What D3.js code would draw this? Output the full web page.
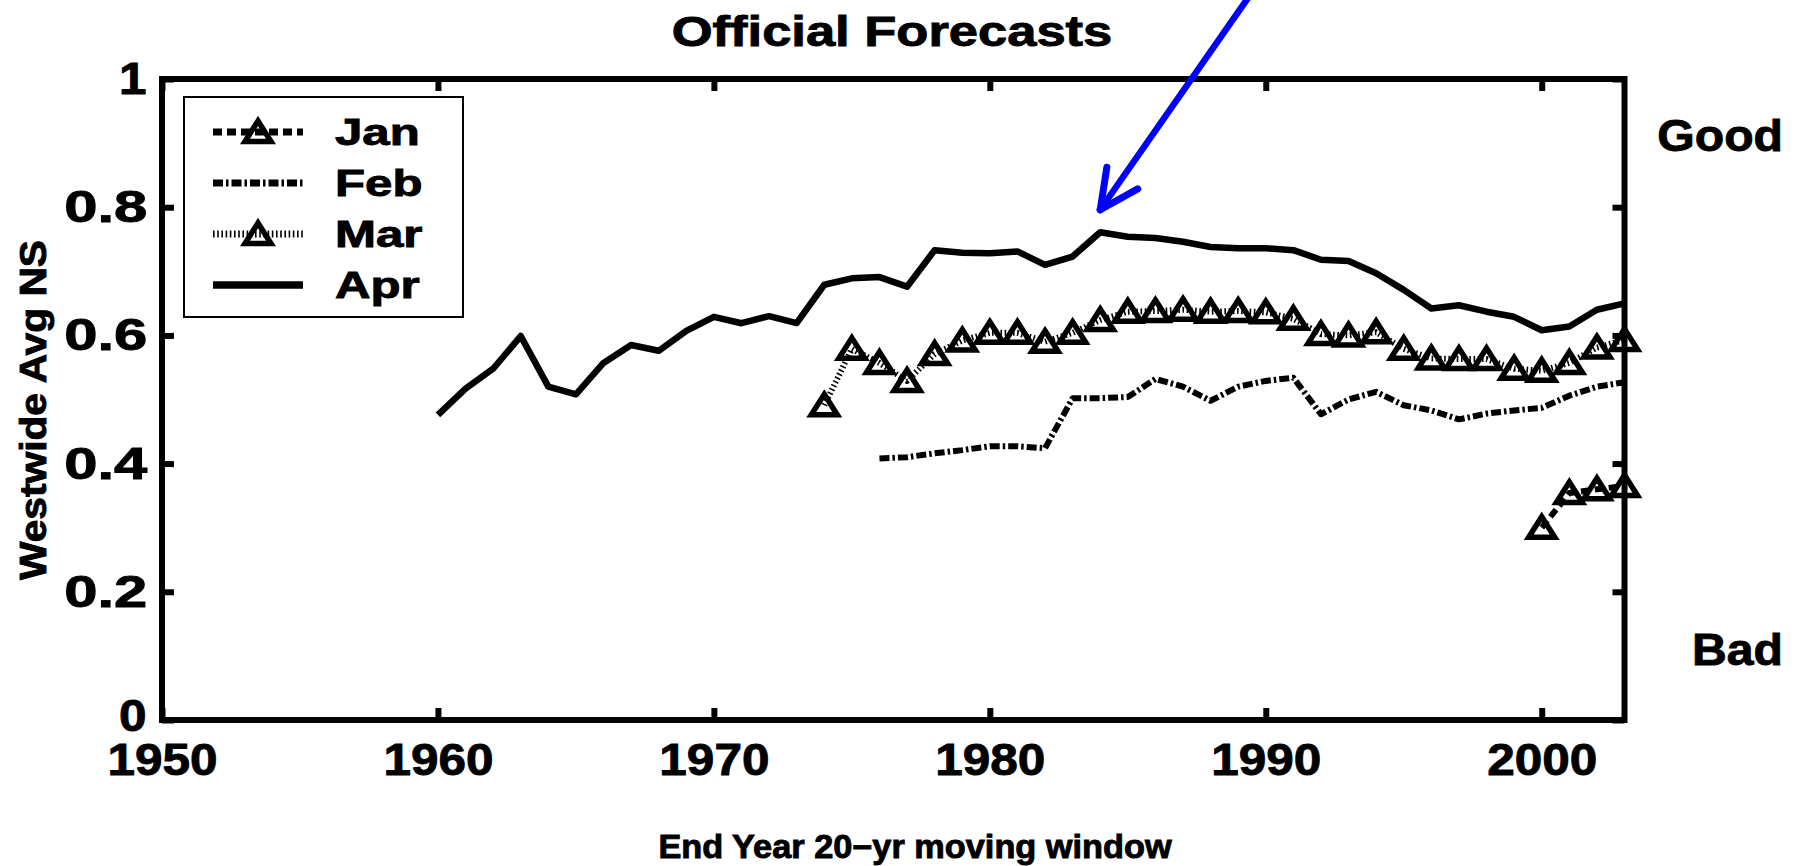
<!DOCTYPE html>
<html>
<head>
<meta charset="utf-8">
<script src="https://cdn.jsdelivr.net/npm/d3@7"></script>
<style>
  html, body { margin: 0; padding: 0; background: #fff; }
  svg { display: block; }
  text { font-family: "Liberation Sans", Arial, Helvetica, sans-serif; font-weight: bold; fill: #000; stroke: #000; stroke-width: 0.9px; }
</style>
</head>
<body>
<script>
// ---------------- data ----------------
const aprYears = d3.range(1960, 2004);
const aprValues = [0.476, 0.517, 0.548, 0.599, 0.520, 0.508, 0.557, 0.585, 0.576, 0.607,
                   0.629, 0.619, 0.630, 0.619, 0.679, 0.689, 0.691, 0.676, 0.733, 0.729,
                   0.728, 0.731, 0.710, 0.723, 0.761, 0.754, 0.752, 0.746, 0.738, 0.736,
                   0.736, 0.733, 0.718, 0.716, 0.697, 0.671, 0.642, 0.647, 0.637, 0.629,
                   0.608, 0.614, 0.640, 0.650];
const marYears = d3.range(1974, 2004);
const marValues = [0.491, 0.579, 0.557, 0.529, 0.571, 0.592, 0.604, 0.604, 0.590, 0.604,
                   0.624, 0.637, 0.638, 0.640, 0.637, 0.638, 0.636, 0.626, 0.602, 0.600,
                   0.605, 0.579, 0.564, 0.563, 0.563, 0.548, 0.545, 0.557, 0.581, 0.593];
const febYears = d3.range(1976, 2004);
const febValues = [0.408, 0.410, 0.416, 0.421, 0.427, 0.427, 0.424, 0.502, 0.502, 0.504,
                   0.532, 0.520, 0.498, 0.520, 0.529, 0.534, 0.477, 0.500, 0.512, 0.491,
                   0.483, 0.469, 0.478, 0.483, 0.487, 0.506, 0.520, 0.527];
const janYears = [2000, 2001, 2002, 2003];
const janValues = [0.300, 0.354, 0.360, 0.365];

const xTicks = [1950, 1960, 1970, 1980, 1990, 2000];
const yTicks = [0, 0.2, 0.4, 0.6, 0.8, 1];
const legendLabels = ["Jan", "Feb", "Mar", "Apr"];
const titleText = "Official Forecasts";
const xLabelText = "End Year 20\u2212yr moving window";
const yLabelText = "Westwide Avg NS";
// annotation arrow (data coordinates): start (off the top) -> tip
const arrowFrom = [1989.9, 1.16];
const arrowTo = [1984.0, 0.796];

// ---------------- layout ----------------
const W = 1794, H = 866;
const x = d3.scaleLinear().domain([1950, 2003]).range([162, 1624.5]);
const y = d3.scaleLinear().domain([0, 1]).range([720, 79]);

const svg = d3.select("body").append("svg").attr("width", W).attr("height", H);
svg.append("rect").attr("width", W).attr("height", H).attr("fill", "#fff");

function stretchedText(g, str, px, py, size, sx, anchor, rotate) {
  return g.append("text")
    .attr("transform", `translate(${px},${py})` + (rotate ? ` rotate(${rotate})` : "") + ` scale(${sx},1)`)
    .attr("text-anchor", anchor)
    .style("font-size", size + "px")
    .text(str);
}

const series = [
  { name: "Jan", years: janYears, values: janValues, dash: "9,5", marker: true, width: 6 },
  { name: "Feb", years: febYears, values: febValues, dash: "10,3,2.5,3", marker: false, width: 6 },
  { name: "Mar", years: marYears, values: marValues, dash: "1.6,2.6", marker: true, width: 6 },
  { name: "Apr", years: aprYears, values: aprValues, dash: null, marker: false, width: 6.5 }
];

const line = d3.line().x(d => x(d[0])).y(d => y(d[1]));
const triPath = "M0,-11L13,9.5L-13,9.5Z";

const plot = svg.append("g");
series.slice().reverse().forEach(s => {
  const pts = s.years.map((yr, i) => [yr, s.values[i]]);
  plot.append("path")
    .attr("d", line(pts))
    .attr("fill", "none")
    .attr("stroke", "#000")
    .attr("stroke-width", s.width)
    .attr("stroke-linejoin", "round")
    .attr("stroke-dasharray", s.dash);
  if (s.marker) {
    plot.selectAll(null).data(pts).enter().append("path")
      .attr("d", triPath)
      .attr("transform", d => `translate(${x(d[0])},${y(d[1])})`)
      .attr("fill", "none")
      .attr("stroke", "#000")
      .attr("stroke-width", 5.5)
      .attr("stroke-linejoin", "miter");
  }
});

// ---------------- axes ----------------
const axG = svg.append("g");
const fmtY = d => (d === 0 ? "0" : d === 1 ? "1" : d3.format(".1f")(d));

axG.append("g").attr("transform", `translate(0,${y(0)})`)
  .call(d3.axisBottom(x).tickValues(xTicks).tickFormat(d3.format("d")).tickSizeInner(-12).tickSizeOuter(0).tickPadding(23));
axG.append("g").attr("transform", `translate(0,${y(1)})`)
  .call(d3.axisTop(x).tickValues(xTicks).tickFormat("").tickSizeInner(-12).tickSizeOuter(0));
const leftAx = axG.append("g").attr("transform", `translate(${x(1950)},0)`)
  .call(d3.axisLeft(y).tickValues(yTicks).tickFormat(fmtY).tickSizeInner(-12).tickSizeOuter(0).tickPadding(14));
axG.append("g").attr("transform", `translate(${x(2003)},0)`)
  .call(d3.axisRight(y).tickValues(yTicks).tickFormat("").tickSizeInner(-12).tickSizeOuter(0));

axG.selectAll(".domain").remove();
axG.selectAll(".tick line").attr("stroke", "#000").attr("stroke-width", 6);
axG.selectAll(".tick text")
  .style("font-size", "45px")
  .attr("font-family", null)
  .attr("fill", "#000")
  .attr("transform", "scale(1.1,1)");
// decimal y labels are set wider in the reference
leftAx.selectAll(".tick text")
  .filter(d => d > 0 && d < 1)
  .attr("transform", "scale(1.33,1)")
  .attr("x", -11);
// nudge the "0" label slightly up so it does not collide with "1950"
leftAx.selectAll(".tick text")
  .filter(d => d === 0)
  .attr("transform", "translate(0,-4) scale(1.1,1)");

axG.append("rect")
  .attr("x", x(1950)).attr("y", y(1))
  .attr("width", x(2003) - x(1950)).attr("height", y(0) - y(1))
  .attr("fill", "none").attr("stroke", "#000").attr("stroke-width", 6);

// ---------------- texts ----------------
stretchedText(svg, titleText, 892, 46, 42, 1.25, "middle");
stretchedText(svg, xLabelText, 915, 858, 33, 1.04, "middle");
stretchedText(svg, yLabelText, 46, 410, 37, 1.1, "middle", -90);
stretchedText(svg, "Good", 1783, 151, 45, 1.07, "end");
stretchedText(svg, "Bad", 1783, 665, 45, 1.07, "end");

// ---------------- legend ----------------
const leg = svg.append("g");
leg.append("rect").attr("x", 184).attr("y", 97).attr("width", 279).attr("height", 220)
  .attr("fill", "#fff").attr("stroke", "#000").attr("stroke-width", 2);
const legY = d3.scalePoint().domain(legendLabels).range([132, 285]);
series.forEach(s => {
  const yy = legY(s.name);
  leg.append("line").attr("x1", 213).attr("x2", 303).attr("y1", yy).attr("y2", yy)
    .attr("stroke", "#000").attr("stroke-width", s.width + 1)
    .attr("stroke-dasharray", s.dash);
  if (s.marker) {
    leg.append("path").attr("d", triPath).attr("transform", `translate(258,${yy})`)
      .attr("fill", "none").attr("stroke", "#000").attr("stroke-width", 5.5);
  }
  stretchedText(leg, s.name, 335, yy + 13, 37, 1.33, "start");
});

// ---------------- arrow annotation ----------------
const ax0 = x(arrowFrom[0]), ay0 = y(arrowFrom[1]);
const ax1 = x(arrowTo[0]), ay1 = y(arrowTo[1]);
const ang = Math.atan2(ay0 - ay1, ax0 - ax1);
const barb = 43, spread = 26 * Math.PI / 180;
const arr = svg.append("g").attr("stroke", "#0000ff").attr("fill", "none").attr("stroke-linecap", "round");
arr.append("line").attr("x1", ax0).attr("y1", ay0).attr("x2", ax1).attr("y2", ay1).attr("stroke-width", 6.5);
[-spread, spread].forEach(sp => {
  arr.append("line")
    .attr("x1", ax1).attr("y1", ay1)
    .attr("x2", ax1 + barb * Math.cos(ang + sp))
    .attr("y2", ay1 + barb * Math.sin(ang + sp))
    .attr("stroke-width", 7);
});
</script>
</body>
</html>
